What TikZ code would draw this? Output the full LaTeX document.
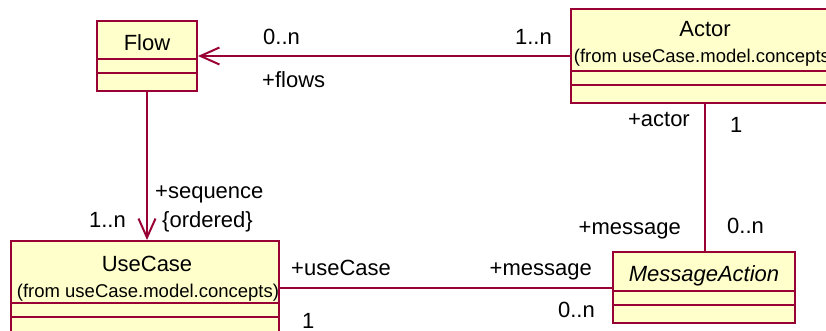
\documentclass[tikz,border=0pt]{standalone}
\usepackage{fontspec}
\setmainfont{Liberation Sans}
\usetikzlibrary{arrows.meta}
\definecolor{umlline}{RGB}{153,0,51}
\definecolor{umlfill}{RGB}{255,255,204}
\tikzset{
  classbox/.style={draw=umlline, fill=umlfill, line width=2pt, rectangle, inner sep=0pt},
  divider/.style={draw=umlline, line width=2pt},
  assoc/.style={draw=umlline, line width=2pt},
  navarrow/.style={-{Straight Barb[length=19pt,width=17pt,line width=2pt]}},
  lbl/.style={inner sep=0pt, font=\fontsize{22}{26}\selectfont},
  small/.style={inner sep=0pt, font=\fontsize{18.5}{22}\selectfont},
}
\begin{document}
\begin{tikzpicture}[x=1pt,y=-1pt]
\clip (0,0) rectangle (826,331);
\fill[white] (0,0) rectangle (826,331);

% class boxes
\node[classbox, minimum width=100pt, minimum height=70pt] (Flow) at (147,56) {};
\node[classbox, minimum width=268pt, minimum height=94pt] (Actor) at (705,56) {};
\node[classbox, minimum width=268pt, minimum height=94pt] (UseCase) at (145,288) {};
\node[classbox, minimum width=182pt, minimum height=71pt] (MsgAction) at (704,287.5) {};

% compartment dividers
\draw[divider] (Flow.west |- 0,59) -- (Flow.east |- 0,59);
\draw[divider] (Flow.west |- 0,73) -- (Flow.east |- 0,73);
\draw[divider] (Actor.west |- 0,71) -- (Actor.east |- 0,71);
\draw[divider] (Actor.west |- 0,85) -- (Actor.east |- 0,85);
\draw[divider] (UseCase.west |- 0,303) -- (UseCase.east |- 0,303);
\draw[divider] (UseCase.west |- 0,317) -- (UseCase.east |- 0,317);
\draw[divider] (MsgAction.west |- 0,291) -- (MsgAction.east |- 0,291);
\draw[divider] (MsgAction.west |- 0,305) -- (MsgAction.east |- 0,305);

% class names
\node[lbl, anchor=base] (FlowName) at (147,51) {Flow};
\node[lbl, anchor=base] (ActorName) at (705,37) {Actor};
\node[small, anchor=base] (ActorFrom) at (705,63) {(from useCase.model.concepts)};
\node[lbl, anchor=base] (UseCaseName) at (147,271) {UseCase};
\node[small, anchor=base] (UseCaseFrom) at (148,297) {(from useCase.model.concepts)};
\node[lbl, anchor=base, font=\fontsize{22}{26}\selectfont\itshape] (MsgName) at (704,281) {MessageAction};

% associations
\draw[assoc, navarrow] (Actor.west) -- (Flow.east);
\draw[assoc, navarrow] (Flow.south) -- (Flow.south |- UseCase.north);
\draw[assoc] (Actor.south) -- (Actor.south |- MsgAction.north);
\draw[assoc] (UseCase.east) -- (UseCase.east -| MsgAction.west);

% role names and multiplicities
\node[lbl, anchor=base west] (m1) at (263,45) {0..n};
\node[lbl, anchor=base west] (r1) at (262,88) {+flows};
\node[lbl, anchor=base east] (m2) at (552,45) {1..n};
\node[lbl, anchor=base east] (r2) at (690,127) {+actor};
\node[lbl, anchor=base west] (m3) at (730,133) {1};
\node[lbl, anchor=base west] (r3) at (155,198) {+sequence};
\node[lbl, anchor=base west] (c3) at (162,227) {\{ordered\}};
\node[lbl, anchor=base east] (m4) at (126,227) {1..n};
\node[lbl, anchor=base west] (r5) at (291,275) {+useCase};
\node[lbl, anchor=base west] (m5) at (302,328) {1};
\node[lbl, anchor=base east] (r6) at (592,275) {+message};
\node[lbl, anchor=base east] (m6) at (595,317) {0..n};
\node[lbl, anchor=base east] (r7) at (681,234) {+message};
\node[lbl, anchor=base west] (m7) at (727,233) {0..n};
\end{tikzpicture}
\end{document}
